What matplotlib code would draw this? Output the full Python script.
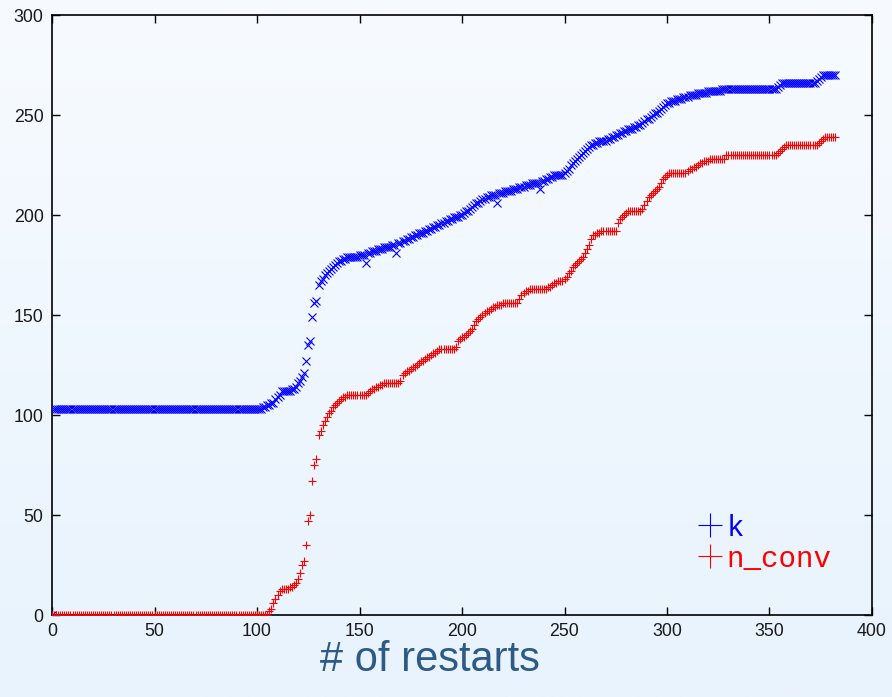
import numpy as np
import matplotlib
matplotlib.use("Agg")
import matplotlib.pyplot as plt
from matplotlib.lines import Line2D

# ---------------- data ----------------
restarts = list(range(383))

k_values = [
    0, 103, 103, 103, 103, 103, 103, 103, 103, 103,
    103, 103, 103, 103, 103, 103, 103, 103, 103, 103,
    103, 103, 103, 103, 103, 103, 103, 103, 103, 103,
    103, 103, 103, 103, 103, 103, 103, 103, 103, 103,
    103, 103, 103, 103, 103, 103, 103, 103, 103, 103,
    103, 103, 103, 103, 103, 103, 103, 103, 103, 103,
    103, 103, 103, 103, 103, 103, 103, 103, 103, 103,
    103, 103, 103, 103, 103, 103, 103, 103, 103, 103,
    103, 103, 103, 103, 103, 103, 103, 103, 103, 103,
    103, 103, 103, 103, 103, 103, 103, 103, 103, 103,
    103, 103, 103, 104, 104, 105, 105, 106, 106, 108,
    109, 110, 112, 112, 112, 112, 112, 113, 113, 114,
    116, 117, 119, 121, 127, 135, 137, 149, 156, 157,
    165, 167, 168, 170, 171, 172, 173, 174, 175, 176,
    177, 177, 178, 178, 179, 179, 179, 179, 179, 179,
    180, 180, 180, 176, 181, 181, 182, 182, 182, 183,
    183, 183, 184, 184, 184, 184, 185, 185, 181, 186,
    186, 187, 187, 188, 188, 189, 189, 190, 190, 191,
    191, 191, 192, 192, 193, 193, 194, 194, 195, 195,
    196, 196, 197, 197, 198, 198, 199, 199, 199, 200,
    200, 201, 202, 202, 203, 204, 205, 206, 206, 207,
    208, 208, 209, 209, 210, 210, 210, 206, 211, 211,
    211, 212, 212, 212, 212, 213, 213, 213, 214, 214,
    214, 215, 215, 215, 216, 216, 216, 216, 213, 217,
    217, 218, 218, 219, 219, 220, 220, 220, 220, 220,
    221, 222, 223, 225, 226, 227, 228, 229, 230, 231,
    232, 233, 234, 235, 235, 236, 236, 237, 237, 237,
    237, 238, 238, 239, 239, 240, 240, 241, 241, 242,
    242, 243, 243, 243, 244, 244, 245, 245, 246, 247,
    248, 248, 249, 250, 251, 251, 252, 253, 254, 255,
    256, 256, 257, 257, 257, 258, 258, 258, 259, 259,
    259, 260, 260, 260, 260, 261, 261, 261, 261, 261,
    262, 262, 262, 262, 262, 262, 262, 263, 263, 263,
    263, 263, 263, 263, 263, 263, 263, 263, 263, 263,
    263, 263, 263, 263, 263, 263, 263, 263, 263, 263,
    263, 263, 263, 263, 264, 265, 266, 266, 266, 266,
    266, 266, 266, 266, 266, 266, 266, 266, 266, 266,
    266, 266, 266, 267, 268, 269, 270, 270, 270, 270,
    270, 270, 270,
]

n_conv_values = [
    0, 0, 0, 0, 0, 0, 0, 0, 0, 0,
    0, 0, 0, 0, 0, 0, 0, 0, 0, 0,
    0, 0, 0, 0, 0, 0, 0, 0, 0, 0,
    0, 0, 0, 0, 0, 0, 0, 0, 0, 0,
    0, 0, 0, 0, 0, 0, 0, 0, 0, 0,
    0, 0, 0, 0, 0, 0, 0, 0, 0, 0,
    0, 0, 0, 0, 0, 0, 0, 0, 0, 0,
    0, 0, 0, 0, 0, 0, 0, 0, 0, 0,
    0, 0, 0, 0, 0, 0, 0, 0, 0, 0,
    0, 0, 0, 0, 0, 0, 0, 0, 0, 0,
    0, 0, 0, 0, 0, 0, 2, 3, 6, 8,
    10, 12, 13, 13, 13, 13, 14, 14, 15, 16,
    18, 21, 25, 27, 35, 47, 50, 67, 75, 78,
    90, 92, 95, 97, 99, 101, 102, 104, 105, 106,
    107, 108, 109, 109, 110, 110, 110, 110, 110, 110,
    110, 110, 110, 110, 111, 112, 113, 113, 114, 114,
    115, 115, 116, 116, 116, 116, 116, 116, 116, 116,
    117, 120, 121, 122, 122, 123, 124, 124, 125, 126,
    127, 127, 128, 129, 129, 130, 131, 131, 132, 133,
    133, 133, 133, 133, 133, 133, 133, 134, 137, 138,
    139, 139, 140, 141, 142, 143, 145, 147, 148, 149,
    150, 151, 152, 152, 153, 154, 154, 155, 155, 155,
    156, 156, 156, 156, 156, 156, 156, 156, 158, 160,
    161, 162, 162, 163, 163, 163, 163, 163, 163, 163,
    163, 163, 164, 164, 165, 166, 166, 167, 167, 167,
    168, 169, 171, 172, 174, 175, 176, 177, 178, 179,
    181, 183, 185, 188, 190, 190, 191, 191, 192, 192,
    192, 192, 192, 192, 192, 192, 196, 198, 199, 200,
    201, 202, 202, 202, 202, 202, 202, 202, 203, 205,
    207, 209, 210, 211, 212, 213, 214, 216, 218, 219,
    220, 221, 221, 221, 221, 221, 221, 221, 221, 221,
    222, 223, 223, 224, 224, 225, 226, 226, 227, 227,
    227, 228, 228, 228, 228, 228, 228, 228, 228, 230,
    230, 230, 230, 230, 230, 230, 230, 230, 230, 230,
    230, 230, 230, 230, 230, 230, 230, 230, 230, 230,
    230, 230, 230, 230, 231, 232, 233, 234, 235, 235,
    235, 235, 235, 235, 235, 235, 235, 235, 235, 235,
    235, 235, 235, 235, 236, 237, 238, 239, 239, 239,
    239, 239, 239,
]

series_labels = ["k", "n_conv"]
x_ticks = [0, 50, 100, 150, 200, 250, 300, 350, 400]
y_ticks = [0, 50, 100, 150, 200, 250, 300]
x_label = "# of restarts"

SANS = ["Liberation Sans", "Arial", "Helvetica", "Roboto", "DejaVu Sans"]
MONO = ["Liberation Mono", "Courier New", "Nimbus Mono PS", "FreeMono", "DejaVu Sans Mono"]
plt.rcParams["font.family"] = SANS

# ---------------- figure ----------------
W, H, DPI = 892, 697, 100
fig = plt.figure(figsize=(W / DPI, H / DPI), dpi=DPI)

# background gradient
bg = fig.add_axes([0, 0, 1, 1], zorder=-10)
top = np.array([0xf7, 0xfb, 0xff]) / 255.0
bot = np.array([0xe8, 0xf3, 0xfd]) / 255.0
t = np.linspace(0, 1, 256)[:, None]
grad = (top[None, :] * (1 - t) + bot[None, :] * t)[:, None, :]
bg.imshow(grad, aspect="auto", extent=[0, 1, 0, 1], origin="upper")
bg.set_axis_off()

L, R, T, B = 52, 872, 15, 615
ax = fig.add_axes([L / W, (H - B) / H, (R - L) / W, (B - T) / H])
ax.set_facecolor("none")

ax.plot(restarts, k_values, linestyle="none", marker="x", color="#0000ff",
        markersize=5.2, markeredgewidth=0.8, zorder=3)
ax.plot(restarts, n_conv_values, linestyle="none", marker="+", color="#ff0000",
        markersize=6.0, markeredgewidth=0.8, zorder=4)

ax.set_xlim(0, 400)
ax.set_ylim(0, 300)
ax.set_xticks(x_ticks)
ax.set_yticks(y_ticks)
ax.tick_params(direction="in", length=6, width=1.0, top=True, right=True,
               labelsize=12.8, labelcolor="#1a1a1a", pad=6)
for s in ax.spines.values():
    s.set_linewidth(1.2)
    s.set_color("black")

fig.text(430 / W, 1 - 671 / H, x_label, ha="center", va="baseline",
         fontsize=30, color="#2d5a87", family=SANS)

handles = [
    Line2D([], [], linestyle="none", marker="+", color="#0000ff",
           markersize=17, markeredgewidth=0.8),
    Line2D([], [], linestyle="none", marker="+", color="#ff0000",
           markersize=17, markeredgewidth=0.8),
]
leg = ax.legend(handles, series_labels, loc="upper left",
                bbox_to_anchor=((681 - L) / (R - L), (B - 499) / (B - T)),
                frameon=False, borderpad=0, handlelength=1.0,
                handletextpad=0.05, labelspacing=0.1,
                prop={"family": MONO, "size": 21},
                labelcolor="linecolor")

fig.savefig("out.png", dpi=DPI)
